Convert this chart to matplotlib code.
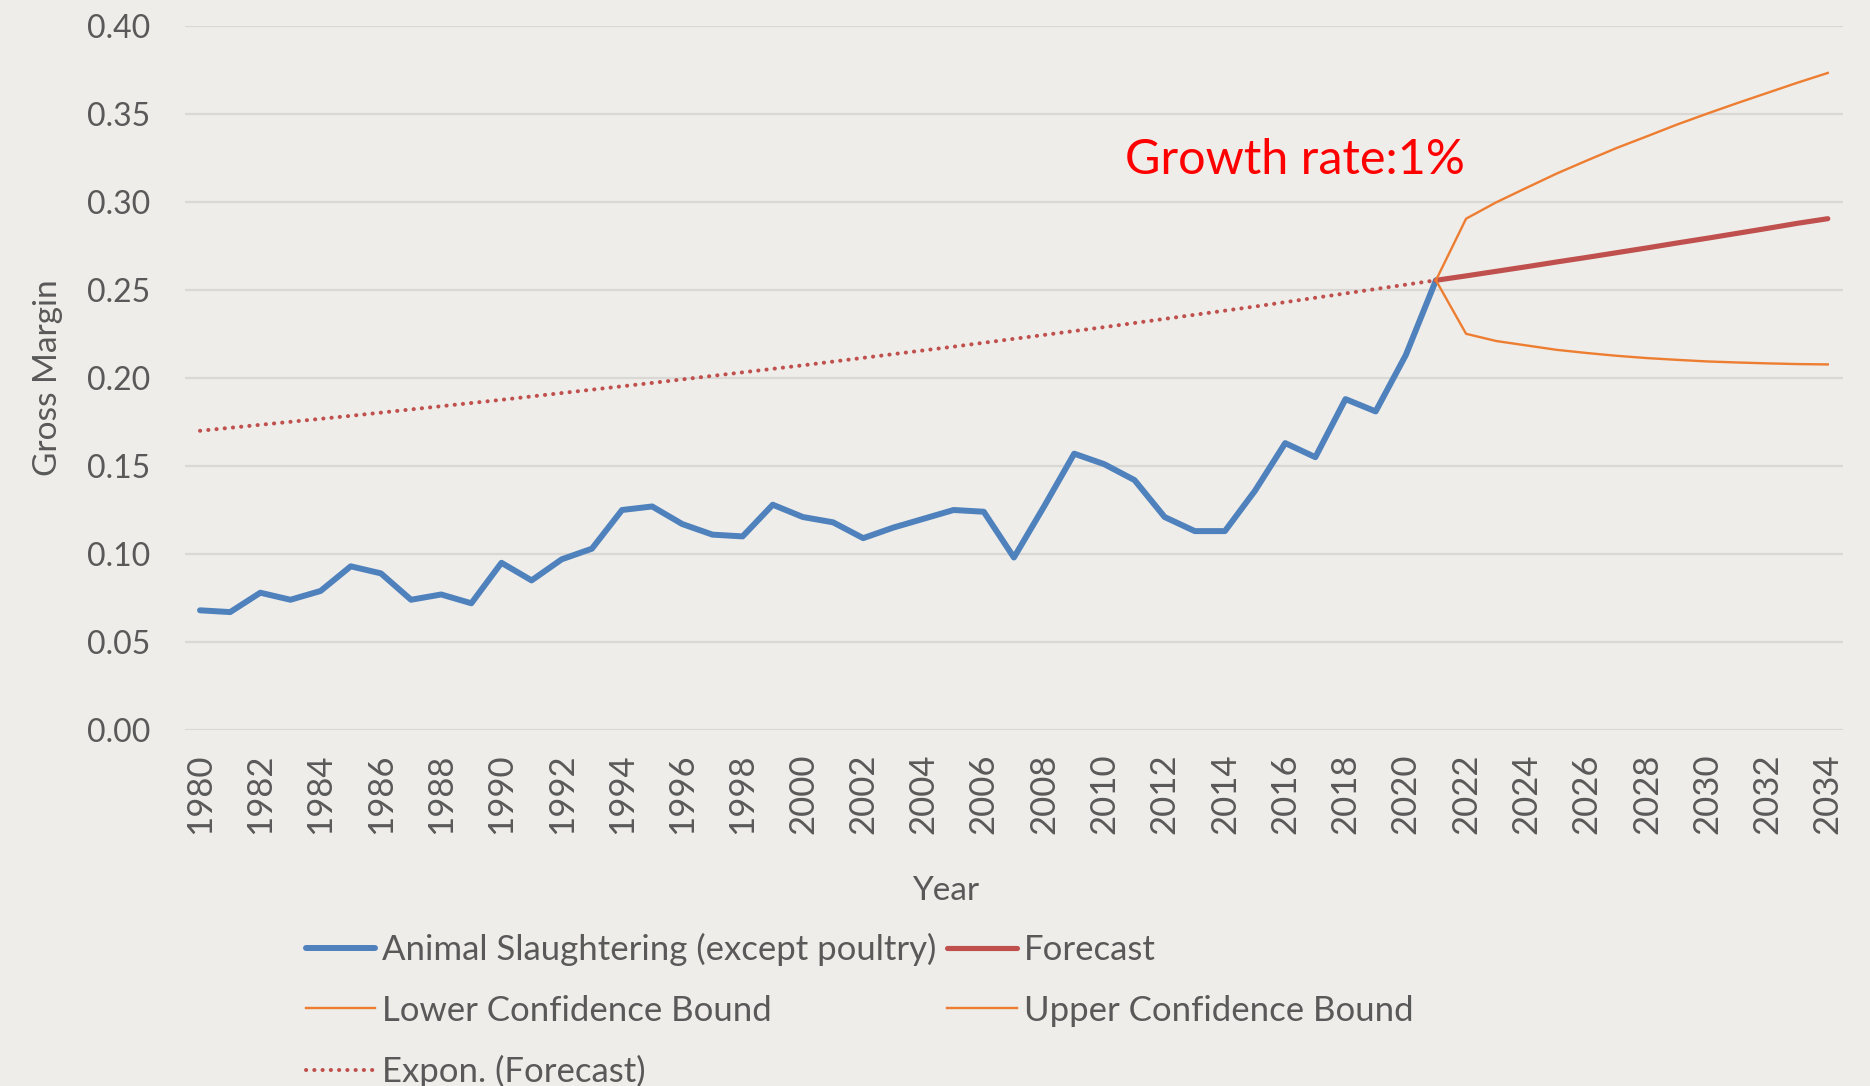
import matplotlib
matplotlib.use('Agg')
import matplotlib.pyplot as plt

# categories: one per year, 1980-2034
years = list(range(1980, 2035))

# Animal Slaughtering (except poultry), 1980-2021
hist_vals = [0.068, 0.067, 0.078, 0.074, 0.079, 0.093, 0.089, 0.074, 0.077, 0.072,
             0.095, 0.085, 0.097, 0.103, 0.125, 0.127, 0.117, 0.111, 0.110, 0.128,
             0.121, 0.118, 0.109, 0.115, 0.120, 0.125, 0.124, 0.098, 0.127, 0.157,
             0.151, 0.142, 0.121, 0.113, 0.113, 0.136, 0.163, 0.155, 0.188, 0.181,
             0.213, 0.2555]

# forecast and confidence bounds, 2021-2034
fc_years = list(range(2021, 2035))
forecast = [0.2555, 0.2580, 0.2606, 0.2632, 0.2659, 0.2685, 0.2712, 0.2739, 0.2767,
            0.2794, 0.2822, 0.2850, 0.2879, 0.2905]
upper = [0.2555, 0.2905, 0.2998, 0.3080, 0.3161, 0.3235, 0.3307, 0.3373, 0.3440,
         0.3502, 0.3562, 0.3620, 0.3678, 0.3733]
lower = [0.2555, 0.2251, 0.2210, 0.2185, 0.2160, 0.2142, 0.2126, 0.2113, 0.2103,
         0.2094, 0.2088, 0.2083, 0.2079, 0.2077]

# exponential trend line (read at a few years)
trend_years = [1980, 1985, 1990, 1995, 2000, 2005, 2010, 2015, 2021]
trend_vals = [0.1700, 0.1785, 0.1876, 0.1972, 0.2072, 0.2178, 0.2289, 0.2406, 0.2555]

bg = '#EEEDE9'
txt = '#595959'
blue = '#4F81BD'
red = '#C0504D'
orange = '#ED7D31'

plt.rcParams['font.family'] = ['Lato', 'DejaVu Sans']

def idx(yrs):
    return [years.index(y) for y in yrs]

fig = plt.figure(figsize=(18.7, 10.86), dpi=100, facecolor=bg)
ax = fig.add_axes([0.0989, 0.3278, 0.8866, 0.6483], facecolor=bg)

ax.plot(idx(trend_years), trend_vals, color=red, lw=2.9,
        linestyle=(0, (0.05, 2.0)), dash_capstyle='round', label='Expon. (Forecast)')
ax.plot(idx(years[:len(hist_vals)]), hist_vals, color=blue, lw=4.3,
        solid_joinstyle='round', solid_capstyle='round',
        label='Animal Slaughtering (except poultry)')
ax.plot(idx(fc_years), forecast, color=red, lw=3.7, solid_capstyle='round', label='Forecast')
ax.plot(idx(fc_years), lower, color=orange, lw=1.7, label='Lower Confidence Bound')
ax.plot(idx(fc_years), upper, color=orange, lw=1.7, label='Upper Confidence Bound')

ax.set_xlim(-0.5, len(years) - 0.5)
ax.set_ylim(0, 0.40)
ax.set_yticks([0.00, 0.05, 0.10, 0.15, 0.20, 0.25, 0.30, 0.35, 0.40])
ax.set_yticklabels(['0.00', '0.05', '0.10', '0.15', '0.20', '0.25', '0.30', '0.35', '0.40'])
xt = list(range(0, len(years), 2))
ax.set_xticks(xt)
ax.set_xticklabels([str(years[i]) for i in xt], rotation=90)
ax.grid(axis='y', color='#D9D8D4', lw=1.6)
ax.set_axisbelow(True)
for s in ax.spines.values():
    s.set_visible(False)
ax.tick_params(axis='y', length=0, pad=25, labelsize=23, labelcolor=txt)
ax.tick_params(axis='x', length=0, pad=17, labelsize=25, labelcolor=txt)

ax.set_ylabel('Gross Margin', fontsize=24, color=txt)
ax.yaxis.set_label_coords(-0.0735, 0.5)
ax.set_xlabel('Year', fontsize=24, color=txt)
ax.xaxis.label.set_va('center')
ax.xaxis.set_label_coords(0.459, -0.228)

ax.text(0.567, 0.81, 'Growth rate:1%', transform=ax.transAxes, color='#FF0000',
        fontsize=35, ha='left', va='center')

h, l = ax.get_legend_handles_labels()
order = [1, 3, 0, 2, 4]
fig.legend([h[i] for i in order], [l[i] for i in order], ncol=2,
           loc='upper left', bbox_to_anchor=(306 / 1870, 1 - 933 / 1086),
           frameon=False, fontsize=25, labelcolor=txt, borderpad=0,
           borderaxespad=0, handlelength=2.0, handletextpad=0.2,
           columnspacing=0.3, labelspacing=0.82)

fig.savefig('out.png', dpi=100, facecolor=bg)
